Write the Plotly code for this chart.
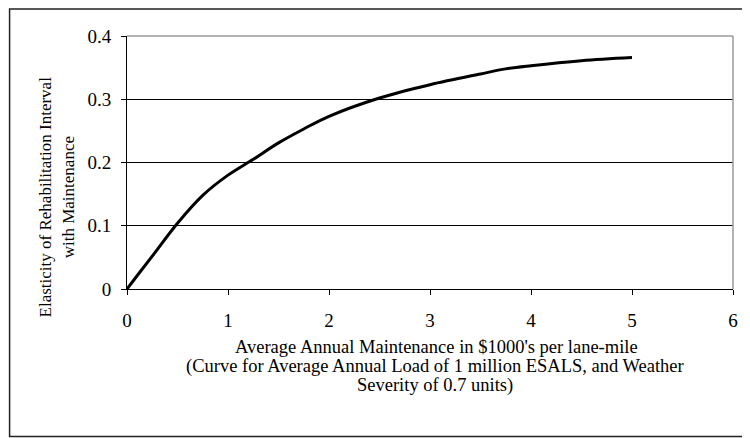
import plotly.graph_objects as go

maintenance = [0, 0.1, 0.25, 0.5, 0.75, 1.0, 1.25, 1.5, 1.75, 2.0, 2.5, 3.0, 3.5, 3.75, 4.0, 4.5, 5.0]
elasticity = [0, 0.021, 0.052, 0.104, 0.148, 0.180, 0.205, 0.231, 0.253, 0.273, 0.302, 0.323, 0.340, 0.348, 0.353, 0.361, 0.366]
x_ticks = [0, 1, 2, 3, 4, 5, 6]
y_ticks = [0, 0.1, 0.2, 0.3, 0.4]
y_tick_text = ["0", "0.1", "0.2", "0.3", "0.4"]

FONT = "Liberation Serif, Times New Roman, serif"

# page is offset by the 8px default body margin; work in page pixels and convert
OFF = 8
W, H = 742, 430
PL, PR, PT, PB = 127, 736, 36, 289  # plot area in page pixels
L, T = PL - OFF, PT - OFF
R, B = W - (PR - OFF), H - (PB - OFF)
pw, ph = PR - PL, PB - PT


def px(xp):
    return (xp - PL) / pw


def py(yp):
    return (PB - yp) / ph


fig = go.Figure()
fig.add_trace(go.Scatter(x=maintenance, y=elasticity, mode="lines",
                         line=dict(color="black", width=3), line_shape="spline",
                         showlegend=False, hoverinfo="skip"))

fig.update_layout(
    width=W, height=H,
    margin=dict(l=L, r=R, t=T, b=B),
    paper_bgcolor="white", plot_bgcolor="white",
    font=dict(family=FONT, size=17, color="black"),
    xaxis=dict(range=[0, 6], tickvals=x_ticks, ticks="outside", ticklen=5, tickwidth=1,
               tickcolor="black", showline=True, linecolor="black", linewidth=1,
               showgrid=False, zeroline=False, ticklabelstandoff=9,
               tickfont=dict(family=FONT, size=19)),
    yaxis=dict(range=[0, 0.4], tickvals=y_ticks, ticktext=y_tick_text, ticks="outside",
               ticklen=5, tickwidth=1, tickcolor="black", showline=True, linecolor="black",
               linewidth=1, showgrid=True, gridcolor="black", gridwidth=1, zeroline=False,
               ticklabelstandoff=6, tickfont=dict(family=FONT, size=19)),
)

# plot-area border (top/right gray)
fig.add_shape(type="line", xref="paper", yref="paper", x0=0, x1=1, y0=1, y1=1,
              line=dict(color="#9a9a9a", width=1.5), layer="above")
fig.add_shape(type="line", xref="paper", yref="paper", x0=1, x1=1, y0=0, y1=1,
              line=dict(color="#9a9a9a", width=1.5), layer="above")

# outer chart border
fig.add_shape(type="rect", xref="paper", yref="paper",
              x0=px(9), x1=px(748), y0=py(436.5), y1=py(9),
              line=dict(color="#222222", width=1.5), layer="below")

# x-axis title lines
x_lines = ["Average Annual Maintenance in $1000's per lane-mile",
           "(Curve for Average Annual Load of 1 million ESALS, and Weather",
           "Severity of 0.7 units)"]
x_centers = [438, 437, 437]
y_centers = [347, 366, 385]
for txt, xc, yc in zip(x_lines, x_centers, y_centers):
    fig.add_annotation(text=txt, xref="paper", yref="paper",
                       x=px(xc), y=py(yc),
                       xanchor="center", yanchor="middle", showarrow=False,
                       font=dict(family=FONT, size=18.5, color="black"))

# y-axis title lines
y_lines = ["Elasticity of Rehabilitation Interval", "with Maintenance"]
y_x = [45, 68]
for txt, xc in zip(y_lines, y_x):
    fig.add_annotation(text=txt, xref="paper", yref="paper",
                       x=px(xc), y=py(197),
                       xanchor="center", yanchor="middle", textangle=-90,
                       showarrow=False, font=dict(family=FONT, size=17, color="black"))

fig.write_html("out.html")
